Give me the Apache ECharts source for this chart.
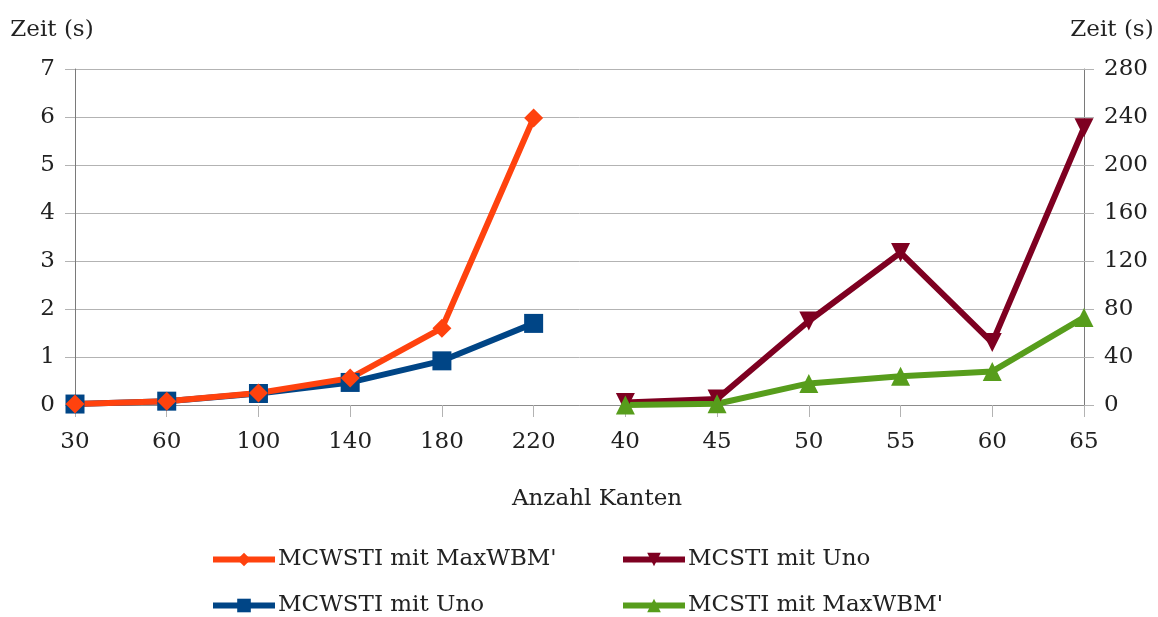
<!DOCTYPE html>
<html>
<head>
<meta charset="utf-8">
<script src="https://cdn.jsdelivr.net/npm/echarts@6/dist/echarts.min.js"></script>
<style>
  html, body { margin: 0; padding: 0; background: #fff; }
  #chart { width: 1158px; height: 617px; }
</style>
</head>
<body>
<div id="chart"></div>
<script>
// Kategorien der x-Achse (links MCWSTI, rechts MCSTI)
const categories = ['30', '60', '100', '140', '180', '220', '40', '45', '50', '55', '60', '65'];

// linke Achse (Zeit in s)
const mcwstiMaxWBM = [0.02, 0.08, 0.25, 0.56, 1.6, 5.98, null, null, null, null, null, null];
const mcwstiUno = [0.02, 0.08, 0.24, 0.47, 0.92, 1.7, null, null, null, null, null, null];

// rechte Achse (Zeit in s)
const mcstiUno = [null, null, null, null, null, null, 2, 5, 70, 127, 52, 231];
const mcstiMaxWBM = [null, null, null, null, null, null, 0, 1, 18, 24, 28, 73];

const font = 'DejaVu Serif';
const gridColor = '#b3b3b3';
const axisColor = '#8c8c8c';

const chart = echarts.init(document.getElementById('chart'), null, { renderer: 'canvas' });

const lineSeries = (name, data, color, symbol, yIdx, rotate) => ({
  name: name,
  type: 'line',
  yAxisIndex: yIdx,
  data: data,
  symbol: symbol,
  symbolSize: 19,
  symbolRotate: rotate || 0,
  showAllSymbol: true,
  connectNulls: false,
  lineStyle: { color: color, width: 6 },
  itemStyle: { color: color },
  emphasis: { disabled: true },
  animation: false
});

// je ein Legendeneintrag pro Block, damit das 2x2-Raster passt
const legendItem = (name, left, top) => ({
  data: [name],
  left: left, top: top,
  itemWidth: 62, itemHeight: 17,
  lineStyle: { width: 6 },
  selectedMode: false,
  textStyle: { fontFamily: font, fontSize: 23, color: '#222', padding: [0, 0, 0, -2] }
});

chart.setOption({
  textStyle: { fontFamily: font },
  grid: { left: 75, right: 74, top: 69, bottom: 212, containLabel: false },
  xAxis: {
    type: 'category',
    data: categories,
    boundaryGap: false,
    name: 'Anzahl Kanten',
    nameLocation: 'middle',
    nameGap: 83,
    nameTextStyle: { fontFamily: font, fontSize: 23, color: '#222', padding: [0, 0, 0, 35] },
    axisLine: { lineStyle: { color: axisColor, width: 1 } },
    axisTick: { show: true, length: 12, lineStyle: { color: gridColor } },
    axisLabel: { fontFamily: font, fontSize: 23, color: '#222', margin: 26, interval: 0 },
    splitLine: { show: false }
  },
  yAxis: [
    {
      type: 'value',
      min: 0, max: 7, interval: 1,
      name: 'Zeit (s)',
      nameLocation: 'end',
      nameGap: 27,
      nameTextStyle: { fontFamily: font, fontSize: 23, color: '#222', align: 'center', padding: [0, 46, 0, 0] },
      axisLine: { show: true, lineStyle: { color: '#7a7a7a', width: 1 } },
      axisTick: { show: true, length: 10, lineStyle: { color: gridColor } },
      axisLabel: { fontFamily: font, fontSize: 23, color: '#222', margin: 20 },
      splitLine: { show: true, lineStyle: { color: gridColor, width: 1 } }
    },
    {
      type: 'value',
      min: 0, max: 280, interval: 40,
      name: 'Zeit (s)',
      nameLocation: 'end',
      nameGap: 27,
      nameTextStyle: { fontFamily: font, fontSize: 23, color: '#222', align: 'center', padding: [0, 0, 0, 56] },
      axisLine: { show: true, lineStyle: { color: '#7a7a7a', width: 1 } },
      axisTick: { show: true, length: 10, lineStyle: { color: gridColor } },
      axisLabel: { fontFamily: font, fontSize: 23, color: '#222', margin: 20 },
      splitLine: { show: false }
    }
  ],
  legend: [
    legendItem("MCWSTI mit MaxWBM'", 205, 543),
    legendItem('MCWSTI mit Uno', 205, 589),
    legendItem('MCSTI mit Uno', 615, 543),
    legendItem("MCSTI mit MaxWBM'", 615, 589)
  ],
  series: [
    lineSeries('MCWSTI mit Uno', mcwstiUno, '#004586', 'rect', 0),
    lineSeries("MCWSTI mit MaxWBM'", mcwstiMaxWBM, '#ff420e', 'diamond', 0),
    lineSeries('MCSTI mit Uno', mcstiUno, '#7e0021', 'triangle', 1, 180),
    lineSeries("MCSTI mit MaxWBM'", mcstiMaxWBM, '#579d1c', 'triangle', 1)
  ]
});
</script>
</body>
</html>
